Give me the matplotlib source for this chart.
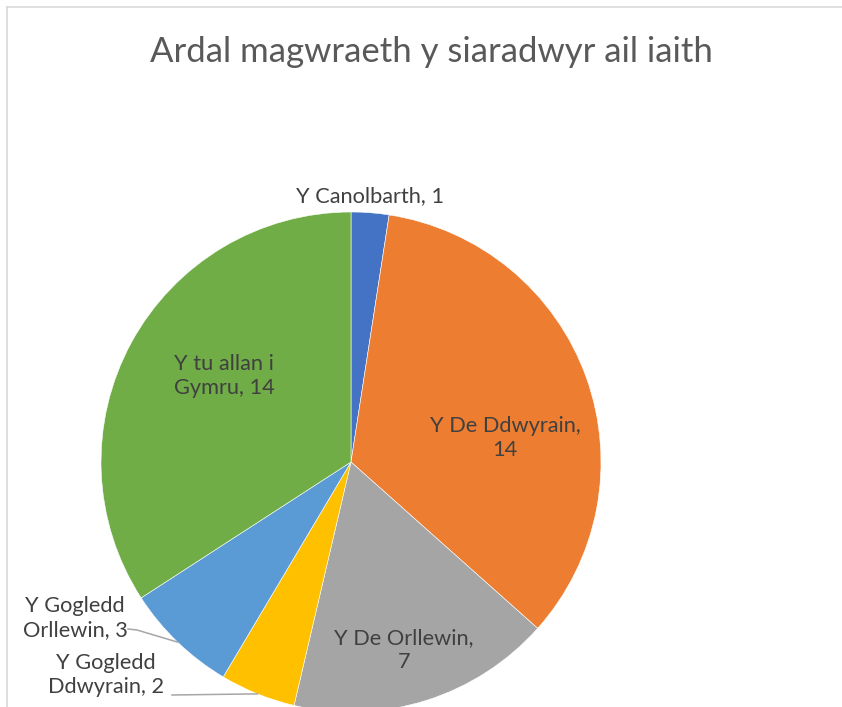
# Pie of where second-language speakers grew up, Excel-style labels.

import numpy as np
import matplotlib
matplotlib.use("Agg")
import matplotlib.pyplot as plt
from matplotlib.lines import Line2D

# ---- data ----
regions = ["Y Canolbarth", "Y De Ddwyrain", "Y De Orllewin",
           "Y Gogledd Ddwyrain", "Y Gogledd Orllewin", "Y tu allan i Gymru"]
counts = [1, 14, 7, 2, 3, 14]
label_texts = ["Y Canolbarth, 1", "Y De Ddwyrain,\n14", "Y De Orllewin,\n7",
               "Y Gogledd\nDdwyrain, 2", "Y Gogledd\nOrllewin, 3",
               "Y tu allan i\nGymru, 14"]
colors = ["#4472C4", "#ED7D31", "#A5A5A5", "#FFC000", "#5B9BD5", "#70AD47"]
TITLE = "Ardal magwraeth y siaradwyr ail iaith"

# ---- layout (pixels, y measured from the top) ----
W, H = 842, 707
CX, CY, R = 351, 462, 250
label_pos = [(370, 196), (505, 438), (404, 650), (106, 675), (75, 618), (224, 376)]
# leader lines: start near the label, optional elbow; end is the wedge mid point on the arc
leaders = {3: [(172, 695)], 4: [(128, 629), (137, 630)]}

FONT = "Lato"
LABEL_COLOR = "#404040"


def py(y):
    return H - y


fig = plt.figure(figsize=(W / 100, H / 100), dpi=100)
ax = fig.add_axes([0, 0, 1, 1])

wedges, _ = ax.pie(counts, colors=colors, startangle=90, counterclock=False,
                   center=(CX, py(CY)), radius=R,
                   wedgeprops={"linewidth": 0.4, "edgecolor": "white"})
ax.set_xlim(0, W)
ax.set_ylim(0, H)
ax.set_aspect("equal")
ax.axis("off")

for i, (txt, (x, y)) in enumerate(zip(label_texts, label_pos)):
    ax.text(x, py(y), txt, ha="center", va="center", fontsize=15.7,
            family=FONT, color=LABEL_COLOR, linespacing=1.28)
    if i in leaders:
        w = wedges[i]
        mid = np.deg2rad((w.theta1 + w.theta2) / 2)
        end = (CX + R * np.cos(mid), py(CY) + R * np.sin(mid))
        pts = [(px, py(pyy)) for px, pyy in leaders[i]] + [end]
        xs, ys = zip(*pts)
        ax.plot(xs, ys, color="#A6A6A6", lw=1.1)

fig.text(431 / W, 1 - 52 / H, TITLE, ha="center", va="center", fontsize=25,
         family=FONT, color="#595959")

# chart area border (top and left edges visible)
fig.add_artist(Line2D([7 / W, 1], [1 - 7 / H, 1 - 7 / H], color="#D9D9D9", lw=1.2,
                      transform=fig.transFigure))
fig.add_artist(Line2D([7 / W, 7 / W], [0, 1 - 7 / H], color="#D9D9D9", lw=1.2,
                      transform=fig.transFigure))

fig.savefig("out.png", dpi=100)
